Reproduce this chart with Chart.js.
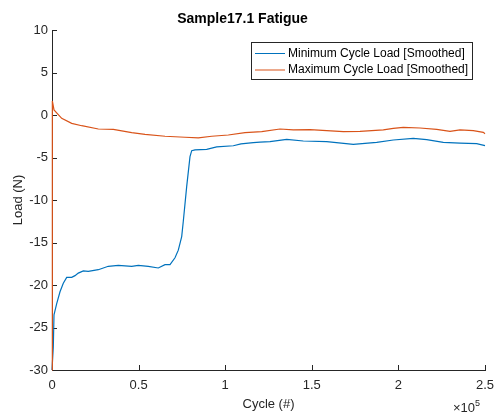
<!DOCTYPE html>
<html>
<head>
<meta charset="utf-8">
<script src="https://cdn.jsdelivr.net/npm/chart.js@4/dist/chart.umd.min.js"></script>
<style>
  html, body { margin: 0; padding: 0; background: #fff; }
  #wrap { width: 495px; height: 412px; }
</style>
</head>
<body>
<div id="wrap"><canvas id="c" width="495" height="412"></canvas></div>
<script>
const chartTitle = "Sample17.1 Fatigue";
const xTitle = "Cycle (#)";
const yTitle = "Load (N)";
const seriesLabels = ["Minimum Cycle Load [Smoothed]", "Maximum Cycle Load [Smoothed]"];

const minCycles = [0, 750, 1155, 2714, 4619, 6524, 8487, 11374, 13280, 15185, 18072, 20959, 26732, 32506, 38280, 46016, 49827, 55601, 61375, 65242, 68130, 71017, 72922, 74885, 75809, 77772, 79677, 80659, 82564, 89319, 95093, 104677, 109123, 116223, 120093, 125866, 135509, 145093, 158603, 173962, 187472, 197057, 208604, 216341, 225925, 235568, 245210, 250000];
const minLoad = [-30, -27.3, -23.5, -22.2, -20.8, -19.8, -19.1, -19.1, -18.9, -18.6, -18.35, -18.4, -18.2, -17.8, -17.7, -17.8, -17.7, -17.8, -18.0, -17.6, -17.6, -16.8, -15.9, -14.3, -12.5, -8.4, -4.9, -4.2, -4.1, -4.04, -3.75, -3.62, -3.4, -3.26, -3.2, -3.14, -2.86, -3.06, -3.14, -3.45, -3.22, -2.94, -2.75, -2.9, -3.22, -3.3, -3.37, -3.6];

const maxCycles = [0, 200, 1155, 5600, 11374, 17147, 26732, 35392, 46016, 53695, 65242, 76790, 84469, 92206, 101790, 111432, 121074, 131640, 139320, 148960, 158600, 168190, 177830, 191290, 197060, 202830, 212470, 222110, 229800, 235570, 243240, 249020, 250000];
const maxLoad = [-30, 1.65, 0.6, -0.39, -0.98, -1.26, -1.65, -1.69, -2.08, -2.27, -2.5, -2.62, -2.7, -2.5, -2.35, -2.08, -1.96, -1.65, -1.76, -1.72, -1.84, -1.96, -1.92, -1.76, -1.57, -1.45, -1.53, -1.69, -1.92, -1.76, -1.84, -2.04, -2.2];

const xMin = 0, xMax = 250000, xStep = 50000, xExponent = 5;
const yMin = -30, yMax = 10, yStep = 5;

const BLUE = '#0072BD';
const ORANGE = '#D95319';
const AXIS = '#262626';
const FONT = "'Liberation Sans', Arial, Helvetica, sans-serif";

function pts(xs, ys) { return xs.map((x, i) => ({ x: x, y: ys[i] })); }

const matlabAxes = {
  id: 'matlabAxes',
  beforeDatasetsDraw(chart) {
    const ctx = chart.ctx;
    const xs = chart.scales.x, ys = chart.scales.y;
    const a = chart.chartArea;
    const len = 5;
    ctx.save();
    ctx.strokeStyle = AXIS;
    ctx.lineWidth = 1;
    ctx.beginPath();
    xs.ticks.forEach(t => {
      const px = Math.round(xs.getPixelForValue(t.value)) + 0.5;
      ctx.moveTo(px, a.bottom);
      ctx.lineTo(px, a.bottom - len);
    });
    ys.ticks.forEach(t => {
      const py = Math.round(ys.getPixelForValue(t.value)) + 0.5;
      ctx.moveTo(a.left, py);
      ctx.lineTo(a.left + len, py);
    });
    ctx.stroke();
    ctx.restore();
  },
  afterDraw(chart) {
    const ctx = chart.ctx;
    ctx.save();
    ctx.fillStyle = AXIS;
    ctx.textAlign = 'left';
    ctx.textBaseline = 'alphabetic';
    ctx.font = "13px " + FONT;
    const base = "\u00d710";
    const bx = 453;
    ctx.fillText(base, bx, 411.5);
    const w = ctx.measureText(base).width;
    ctx.font = "9px " + FONT;
    ctx.fillText(String(xExponent), bx + w, 406);

    const lx = 251.5, ly = 42.5, lw = 221, lh = 37;
    ctx.fillStyle = '#fff';
    ctx.fillRect(lx, ly, lw, lh);
    ctx.strokeStyle = AXIS;
    ctx.lineWidth = 1;
    ctx.strokeRect(lx, ly, lw, lh);
    const rows = [53.5, 70];
    chart.data.datasets.forEach((ds, i) => {
      ctx.strokeStyle = ds.borderColor;
      ctx.lineWidth = 1;
      ctx.beginPath();
      ctx.moveTo(255, rows[i]);
      ctx.lineTo(285, rows[i]);
      ctx.stroke();
      ctx.fillStyle = '#000';
      ctx.font = "12px " + FONT;
      ctx.textBaseline = 'middle';
      ctx.fillText(ds.label, 288, rows[i]);
    });
    ctx.restore();
  }
};

new Chart(document.getElementById('c'), {
  type: 'line',
  data: {
    datasets: [
      { label: seriesLabels[0], data: pts(minCycles, minLoad), borderColor: BLUE, backgroundColor: BLUE, borderWidth: 1.2, pointRadius: 0, tension: 0, clip: false, order: 1 },
      { label: seriesLabels[1], data: pts(maxCycles, maxLoad), borderColor: ORANGE, backgroundColor: ORANGE, borderWidth: 1.2, pointRadius: 0, tension: 0, clip: false, order: 0 }
    ]
  },
  options: {
    responsive: false,
    animation: false,
    devicePixelRatio: 1,
    layout: { padding: { left: 0, right: 10, top: 0, bottom: 0 } },
    plugins: {
      legend: { display: false },
      tooltip: { enabled: false },
      title: {
        display: true,
        text: chartTitle,
        color: '#000',
        font: { family: FONT, size: 14, weight: 'bold' },
        padding: { top: 11, bottom: 2.2 }
      }
    },
    scales: {
      x: {
        type: 'linear',
        min: xMin, max: xMax,
        afterFit(s) { s.height = 42; s.paddingLeft = 0; s.paddingRight = 0; },
        ticks: {
          stepSize: xStep,
          color: AXIS,
          font: { family: FONT, size: 13 },
          padding: 8,
          maxRotation: 0,
          callback: v => String(v / Math.pow(10, xExponent))
        },
        grid: { display: true, drawOnChartArea: false, drawTicks: false },
        border: { display: true, color: AXIS, width: 1 },
        title: { display: true, text: xTitle, color: AXIS, font: { family: FONT, size: 13 }, padding: { top: 0, bottom: 0 } }
      },
      y: {
        type: 'linear',
        min: yMin, max: yMax,
        afterFit(s) { s.width = 52; s.paddingTop = 0; s.paddingBottom = 0; },
        ticks: {
          stepSize: yStep,
          color: AXIS,
          font: { family: FONT, size: 13 },
          padding: 4
        },
        grid: { display: true, drawOnChartArea: false, drawTicks: false },
        border: { display: true, color: AXIS, width: 1 },
        title: { display: true, text: yTitle, color: AXIS, font: { family: FONT, size: 13 }, padding: { top: 11, bottom: 0 } }
      }
    }
  },
  plugins: [matlabAxes]
});
</script>
</body>
</html>
